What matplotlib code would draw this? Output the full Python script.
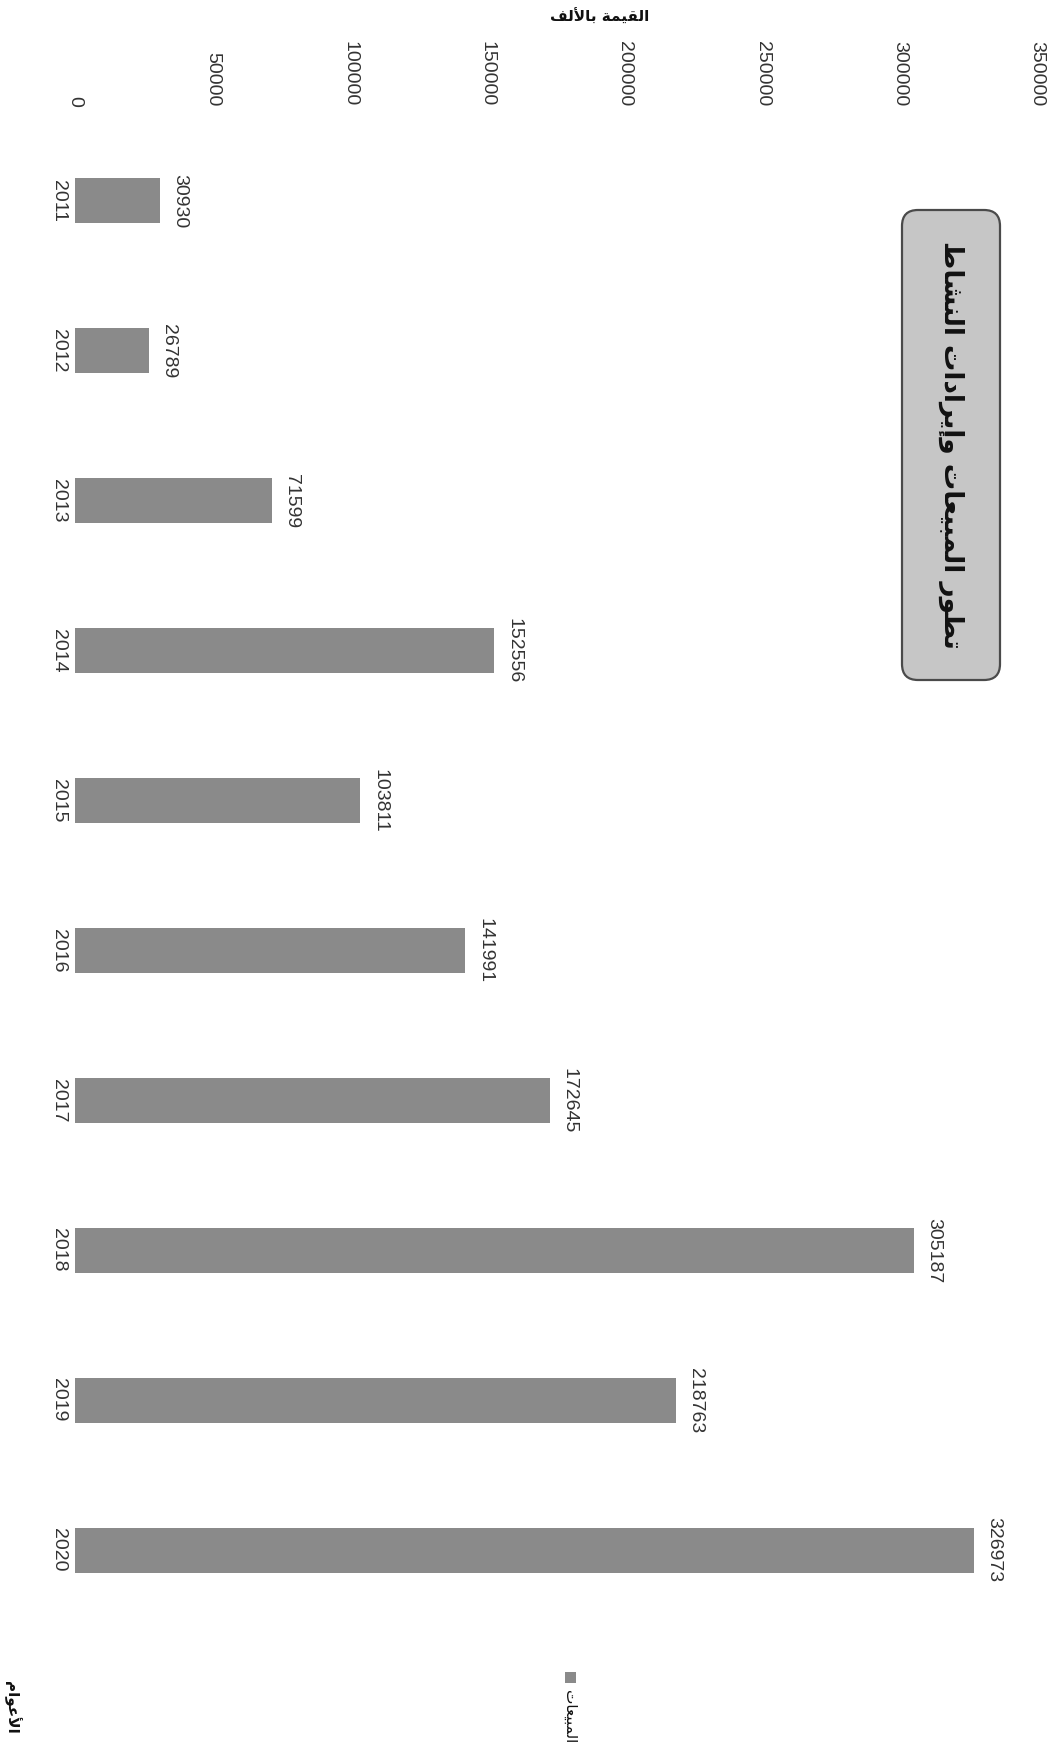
import matplotlib
matplotlib.use("Agg")
import matplotlib.pyplot as plt
from matplotlib.patches import FancyBboxPatch, Rectangle
from matplotlib.transforms import IdentityTransform

# ----------------------------------------------------------------------
# Data
# ----------------------------------------------------------------------
years = ["2011", "2012", "2013", "2014", "2015",
         "2016", "2017", "2018", "2019", "2020"]
sales = [30930, 26789, 71599, 152556, 103811,
         141991, 172645, 305187, 218763, 326973]
value_ticks = [0, 50000, 100000, 150000, 200000, 250000, 300000, 350000]

title_text = "تطور المبيعات وإيرادات النشاط"
value_axis_label = "القيمة بالألف"
year_axis_label = "الأعوام"
series_name = "المبيعات"

BAR_COLOR = "#8a8a8a"
TEXT_COLOR = "#333333"


# ----------------------------------------------------------------------
# Minimal Arabic shaping: matplotlib has no contextual forms / RTL,
# so map letters to presentation forms and reverse for display.
# forms = (isolated, final, initial, medial); None = does not join forward
# ----------------------------------------------------------------------
FORMS = {
    "ا": (0xFE8D, 0xFE8E, None, None),
    "أ": (0xFE83, 0xFE84, None, None),
    "إ": (0xFE87, 0xFE88, None, None),
    "ب": (0xFE8F, 0xFE90, 0xFE91, 0xFE92),
    "ة": (0xFE93, 0xFE94, None, None),
    "ت": (0xFE95, 0xFE96, 0xFE97, 0xFE98),
    "د": (0xFEA9, 0xFEAA, None, None),
    "ر": (0xFEAD, 0xFEAE, None, None),
    "ش": (0xFEB5, 0xFEB6, 0xFEB7, 0xFEB8),
    "ط": (0xFEC1, 0xFEC2, 0xFEC3, 0xFEC4),
    "ع": (0xFEC9, 0xFECA, 0xFECB, 0xFECC),
    "ف": (0xFED1, 0xFED2, 0xFED3, 0xFED4),
    "ق": (0xFED5, 0xFED6, 0xFED7, 0xFED8),
    "ل": (0xFEDD, 0xFEDE, 0xFEDF, 0xFEE0),
    "م": (0xFEE1, 0xFEE2, 0xFEE3, 0xFEE4),
    "ن": (0xFEE5, 0xFEE6, 0xFEE7, 0xFEE8),
    "و": (0xFEED, 0xFEEE, None, None),
    "ي": (0xFEF1, 0xFEF2, 0xFEF3, 0xFEF4),
}
LAM_ALEF = {"ا": (0xFEFB, 0xFEFC, None, None),
            "أ": (0xFEF7, 0xFEF8, None, None),
            "إ": (0xFEF9, 0xFEFA, None, None)}


def shape(s):
    toks = []
    i = 0
    while i < len(s):
        ch = s[i]
        if ch == "ل" and i + 1 < len(s) and s[i + 1] in LAM_ALEF:
            toks.append(LAM_ALEF[s[i + 1]])
            i += 2
            continue
        toks.append(FORMS.get(ch))
        i += 1
    out = []
    for k, f in enumerate(toks):
        if f is None:
            out.append(" ")
            continue
        prev = toks[k - 1] if k > 0 else None
        nxt = toks[k + 1] if k + 1 < len(toks) else None
        jp = prev is not None and prev[2] is not None
        jn = nxt is not None and f[2] is not None
        if jp and jn:
            c = f[3]
        elif jp:
            c = f[1]
        elif jn:
            c = f[2]
        else:
            c = f[0]
        out.append(chr(c))
    return "".join(reversed(out))


plt.rcParams["font.family"] = ["Liberation Sans", "DejaVu Sans"]

W, H, DPI = 1054, 1754, 100
fig = plt.figure(figsize=(W / DPI, H / DPI), dpi=DPI)
fig.patch.set_facecolor("white")

# axes placed in pixel terms: value 0 at x=75, 350000 at x=1037
ax = fig.add_axes([75 / W, 1 - 1625 / H, 962 / W, 1499 / H])
ax.set_facecolor("white")

pos = list(range(len(years)))
ax.barh(pos, sales, height=0.3, color=BAR_COLOR, edgecolor="none")
ax.set_xlim(0, 350000)
ax.set_ylim(len(years) - 0.5, -0.5)

for p, v in zip(pos, sales):
    ax.annotate(str(v), (v, p), xytext=(8, 0), textcoords="offset points",
                rotation=-90, ha="left", va="center", fontsize=14,
                color=TEXT_COLOR)

ax.xaxis.tick_top()
ax.set_xticks(value_ticks)
ax.set_xticklabels([str(t) for t in value_ticks], rotation=-90,
                   fontsize=14, color=TEXT_COLOR)
ax.set_yticks(pos)
ax.set_yticklabels(years, rotation=-90, va="center", fontsize=14,
                   color=TEXT_COLOR)
ax.tick_params(axis="y", length=0, pad=6)
ax.tick_params(axis="x", length=0, pad=14)
for sp in ax.spines.values():
    sp.set_visible(False)

# title in a rounded grey box, written along the page
box = FancyBboxPatch((902, H - 680), 98, 470,
                     boxstyle="round,pad=0,rounding_size=16",
                     transform=IdentityTransform(), facecolor="#c6c6c6",
                     edgecolor="#4a4a4a", linewidth=1.6)
fig.patches.append(box)
fig.text(951 / W, 1 - 445 / H, shape(title_text), rotation=-90,
         ha="center", va="center", fontsize=19, fontweight="bold",
         family="DejaVu Sans", color="#111111")

# value axis label
fig.text(600 / W, 1 - 17 / H, shape(value_axis_label), ha="center",
         va="center", fontsize=11, fontweight="bold", family="DejaVu Sans",
         color="#111111")

# legend: grey swatch with series name below it
fig.patches.append(Rectangle((565, H - 1683), 11, 11,
                             transform=IdentityTransform(),
                             facecolor=BAR_COLOR, edgecolor="none"))
fig.text(570 / W, 1 - 1690 / H, shape(series_name), rotation=-90,
         ha="center", va="top", fontsize=11, family="DejaVu Sans",
         color="#111111")

# category axis label
fig.text(12 / W, 1 - 1707 / H, shape(year_axis_label), rotation=-90,
         ha="center", va="center", fontsize=11, fontweight="bold",
         family="DejaVu Sans", color="#111111")

fig.savefig("out.png", dpi=DPI, facecolor="white")
plt.close(fig)
